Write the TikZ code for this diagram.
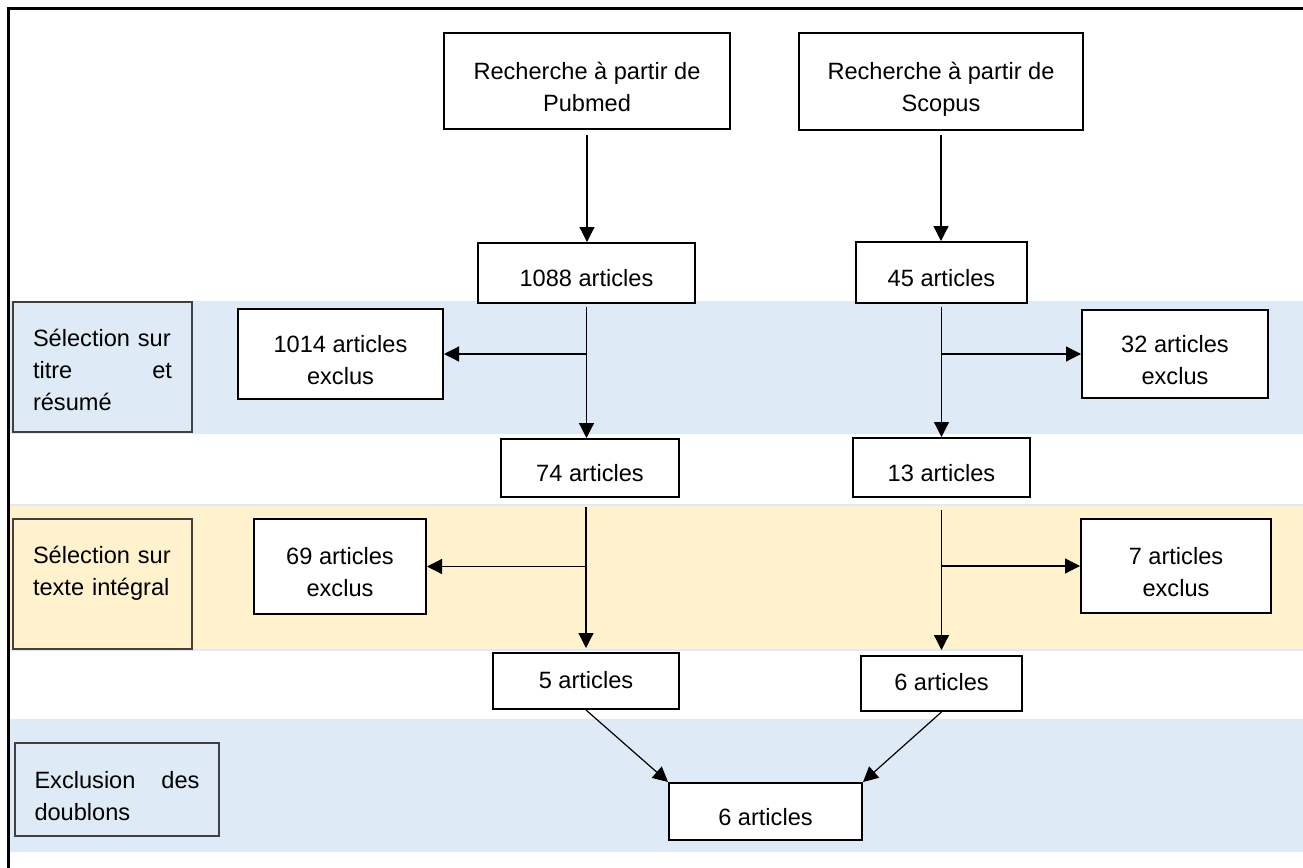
\documentclass[tikz,border=0pt]{standalone}
\usepackage{fontspec}
\setmainfont{Liberation Sans}
\usepackage{tikz}
\usetikzlibrary{arrows.meta,positioning}
\usepackage{xcolor}
\definecolor{bandblue}{RGB}{222,234,246}
\definecolor{bandyellow}{RGB}{255,242,204}

\begin{document}
\begin{tikzpicture}[x=0.5pt, y=-0.5pt,
    box/.style={draw, line width=1pt, fill=white, align=center, inner sep=0pt, text height=13.5pt, text depth=0pt, font=\fontsize{11.8}{16}\selectfont},
    twoline/.style={text height=30pt, text depth=0pt},
    phase/.style={draw=black!75, line width=0.75pt, align=left, text width=69.5pt, text height=8pt, inner sep=0pt, font=\fontsize{11.8}{16}\selectfont},
    arrow/.style={-{Triangle[length=7.5pt, width=7.5pt]}, line width=0.6pt}
]
\useasboundingbox (0,0) rectangle (1303,868);

% Stage bands
\fill[bandblue] (10,301) rectangle (1303,434);
\fill[bandyellow] (10,506) rectangle (1303,649);
\draw[bandblue, line width=1pt] (10,505) -- (1303,505) (10,650) -- (1303,650);
\fill[bandblue] (10,719) rectangle (1303,852);
\draw[line width=1.5pt] (8,868) -- (8,8) -- (1303,8);

% Stage labels
\node[phase, minimum width=89.5pt, minimum height=65pt, fill=bandblue, text depth=29pt] (seltitle) at (102.5,367) {Sélection sur\\titre\hfill et\\résumé};
\node[phase, minimum width=89.5pt, minimum height=65pt, fill=bandyellow, text depth=29pt] (seltext) at (102.5,584) {Sélection sur\\texte intégral};
\node[phase, minimum width=102pt, minimum height=46.5pt, fill=bandblue, text width=82.5pt, text depth=9.5pt] (dedup) at (117,789.5) {Exclusion\hfill des\\doublons};

% Databases
\node[box, twoline, minimum width=143pt, minimum height=48pt] (pubmed) at (587,81) {Recherche à partir de\\Pubmed};
\node[box, twoline, minimum width=142pt, minimum height=48.5pt] (scopus) at (941,81.5) {Recherche à partir de\\Scopus};

% Counts
\node[box, minimum width=108.5pt, minimum height=30pt] (pub1088) at (586.5,273) {1088 articles};
\node[box, minimum width=85.5pt, minimum height=30.5pt] (sco45) at (941.5,272.5) {45 articles};
\node[box, minimum width=89pt, minimum height=29pt] (pub74) at (590,468) {74 articles};
\node[box, minimum width=88.5pt, minimum height=29.5pt] (sco13) at (941.5,467.5) {13 articles};
\node[box, text height=7pt, minimum width=93pt, minimum height=28pt] (pub5) at (586,681) {5 articles};
\node[box, text height=7pt, minimum width=80.5pt, minimum height=27.5pt] (sco6) at (941.5,683.5) {6 articles};
\node[box, minimum width=96.5pt, minimum height=28.5pt] (final) at (765.5,811.5) {6 articles};

% Exclusions
\node[box, twoline, minimum width=102.5pt, minimum height=45pt] (excl1014) at (340.5,354) {1014 articles\\exclus};
\node[box, twoline, minimum width=93pt, minimum height=44pt] (excl32) at (1175,354) {32 articles\\exclus};
\node[box, twoline, minimum width=86pt, minimum height=47.5pt] (excl69) at (340,566.5) {69 articles\\exclus};
\node[box, twoline, minimum width=95pt, minimum height=47pt] (excl7) at (1176,566) {7 articles\\exclus};

% Split points
\coordinate (split1) at (pub1088.south |- excl1014.east);
\coordinate (split2) at (sco45.south |- excl32.west);
\coordinate (split3) at (pub5.north |- excl69.east);
\coordinate (split4) at (sco13.south |- excl7.west);

% Arrows
\draw[arrow, shorten <=2.5pt] (pubmed.south) -- (pubmed.south |- pub1088.north);
\draw[arrow, shorten <=2pt] (scopus.south) -- (scopus.south |- sco45.north);
\draw[arrow, shorten <=1.5pt] (pub1088.south) -- (pub1088.south |- pub74.north);
\draw[arrow, shorten <=1.5pt] (sco45.south) -- (sco45.south |- sco13.north);
\draw[arrow] (split1) -- (excl1014);
\draw[arrow] (split2) -- (excl32);
\draw[arrow, shorten <=4.5pt, shorten >=2pt] (pub5.north |- pub74.south) -- (pub5.north);
\draw[arrow, shorten <=6pt, shorten >=2.5pt] (sco13.south) -- (sco13.south |- sco6.north);
\draw[arrow] (split3) -- (excl69);
\draw[arrow] (split4) -- (excl7);
\draw[arrow] (pub5.south) -- (final.north west);
\draw[arrow] (sco6.south) -- (final.north east);

\end{tikzpicture}
\end{document}
